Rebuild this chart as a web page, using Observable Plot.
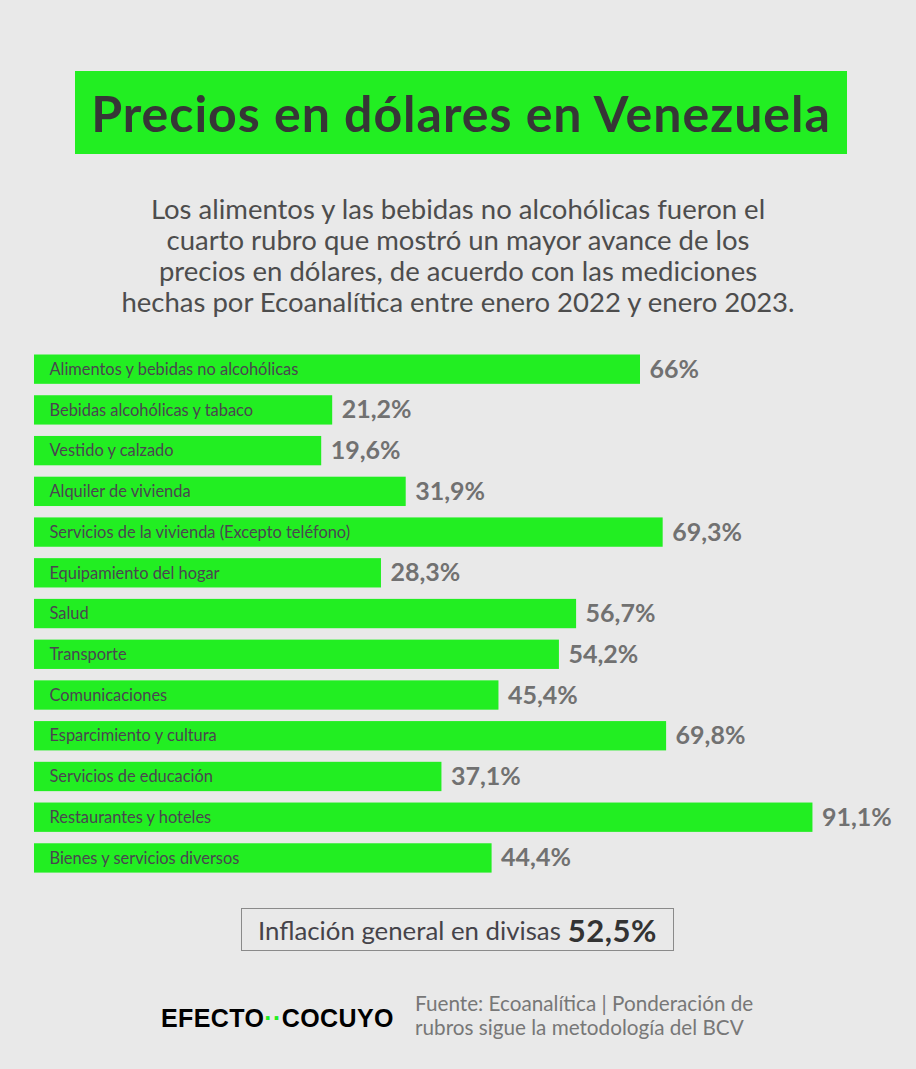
<!DOCTYPE html>
<html>
<head>
<meta charset="utf-8">
<script src="https://cdn.jsdelivr.net/npm/d3@7"></script>
<script src="https://cdn.jsdelivr.net/npm/@observablehq/plot@0.6"></script>
<style>
  body { margin: 0; background: #e9e9e9; font-family: Lato, "Noto Sans", sans-serif; }
  #page { position: relative; width: 916px; height: 1069px; overflow: hidden; background: #e9e9e9; }
  #title {
    position: absolute; left: 75px; top: 71px; width: 772px; height: 83px;
    background: #22ee22; display: flex; align-items: center; justify-content: center;
    font-weight: 700; font-size: 50px; letter-spacing: 1px; color: #363636; white-space: nowrap;
  }
  #subtitle {
    position: absolute; left: 0; top: 193px; width: 916px; text-align: center;
    font-size: 27.5px; line-height: 31px; color: #4d4d4d;
  }
  #chart { position: absolute; left: 0; top: 340px; }
  #inflation {
    position: absolute; left: 241px; top: 908px; width: 433px; height: 43px; box-sizing: border-box;
    border: 1.5px solid #8a8a8a; display: flex; align-items: center; justify-content: center;
    font-size: 25.8px; color: #45434a; white-space: nowrap;
  }
  #inflation b { font-size: 31px; letter-spacing: 0.5px; font-weight: 700; color: #333; margin-left: 7px; }
  #logo {
    position: absolute; left: 161px; top: 1006px; font-family: "Liberation Sans", Arial, sans-serif;
    font-weight: 700; font-size: 25px; line-height: 25px; color: #000; white-space: nowrap; letter-spacing: 0.4px;
  }
  #logo span { color: #22ee22; }
  #source {
    position: absolute; left: 415px; top: 992px; font-size: 20.7px; line-height: 23.5px; color: #777;
  }
</style>
</head>
<body>
<div id="page">
  <div id="title">Precios en dólares en Venezuela</div>
  <div id="subtitle">Los alimentos y las bebidas no alcohólicas fueron el<br>cuarto rubro que mostró un mayor avance de los<br>precios en dólares, de acuerdo con las mediciones<br>hechas por Ecoanalítica entre enero 2022 y enero 2023.</div>
  <div id="chart"></div>
  <div id="inflation">Inflación general en divisas<b>52,5%</b></div>
  <div id="logo">EFECTO<span>··</span>COCUYO</div>
  <div id="source">Fuente: Ecoanalítica | Ponderación de<br>rubros sigue la metodología del BCV</div>
</div>
<script>
// Variación de precios en dólares por rubro (%), enero 2022 - enero 2023
const categories = [
  "Alimentos y bebidas no alcohólicas",
  "Bebidas alcohólicas y tabaco",
  "Vestido y calzado",
  "Alquiler de vivienda",
  "Servicios de la vivienda (Excepto teléfono)",
  "Equipamiento del hogar",
  "Salud",
  "Transporte",
  "Comunicaciones",
  "Esparcimiento y cultura",
  "Servicios de educación",
  "Restaurantes y hoteles",
  "Bienes y servicios diversos"
];
const values = [66, 21.2, 19.6, 31.9, 69.3, 28.3, 56.7, 54.2, 45.4, 69.8, 37.1, 91.1, 44.4];

const rows = categories.map((category, i) => ({category, value: values[i]}));

// The bars start left of zero so the category names fit inside them
const xMin = -22.2;
const green = "#22ee22";
const fmt = v => String(v).replace(".", ",") + "%";

const chart = Plot.plot({
  width: 916,
  height: 545,
  margin: 0,
  style: {background: "transparent", overflow: "visible"},
  x: {domain: [xMin, 100], range: [34, 873.6], axis: null},
  y: {domain: categories, range: [8.8, 538.3], paddingInner: 0.28, paddingOuter: 0.14, round: false, axis: null},
  marks: [
    Plot.barX(rows, {x1: () => xMin, x2: "value", y: "category", fill: green}),
    Plot.text(rows, {
      x: () => xMin, y: "category", text: "category", textAnchor: "start", dx: 15,
      fontSize: 16.4, fill: "#4a4550", fontFamily: "Lato, sans-serif"
    }),
    Plot.text(rows, {
      x: "value", y: "category", text: d => fmt(d.value), textAnchor: "start", dx: 9,
      fontSize: 25, fontWeight: 700, fill: "#717171", fontFamily: "Lato, sans-serif"
    })
  ]
});
document.getElementById("chart").appendChild(chart);
</script>
</body>
</html>
